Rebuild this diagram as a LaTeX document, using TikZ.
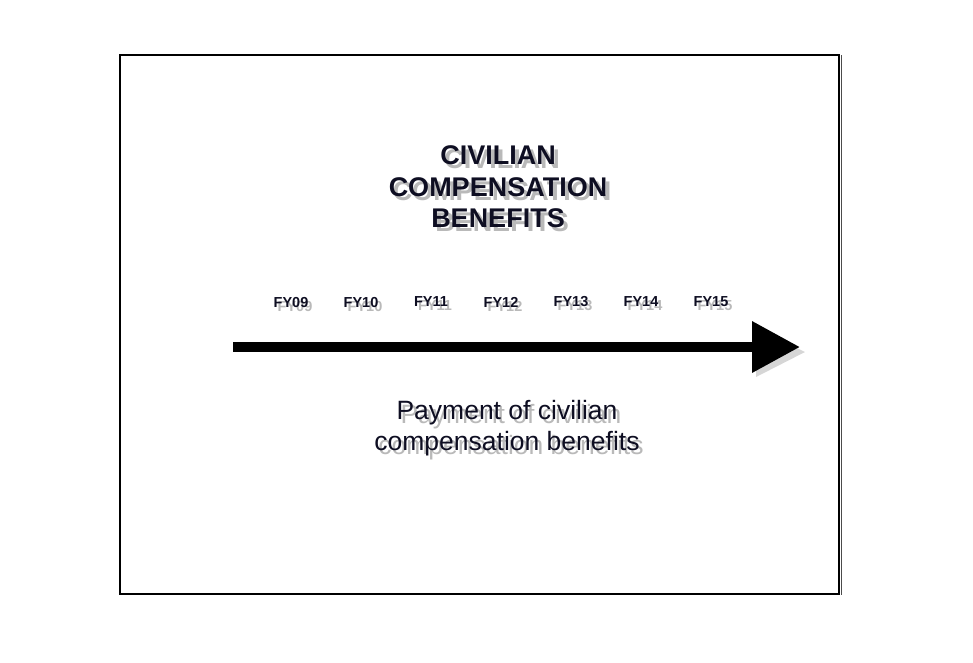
\documentclass[tikz,border=0pt]{standalone}
\usepackage{fontspec}
\setmainfont{Liberation Sans}
\usetikzlibrary{arrows.meta,positioning}
\definecolor{inkdark}{HTML}{0E0E22}
\definecolor{shadowgray}{HTML}{8A8A8A}

\begin{document}
\begin{tikzpicture}[x=1pt,y=-1pt,
		titletext/.style={font=\fontsize{27}{31.5}\selectfont\bfseries, align=center},
		yeartext/.style={font=\fontsize{14.5}{17}\selectfont\bfseries},
		notetext/.style={font=\fontsize{26.5}{31.5}\selectfont, align=center},
		ink/.style={text=inkdark},
		blur/.style={text=shadowgray, opacity=0.6}]
		\useasboundingbox (0,0) rectangle (973,662);
		% frame
		\draw[line width=2pt] (120,55) rectangle (839,594);
		\draw[line width=0.6pt, black!70] (841.5,55) -- (841.5,595);
		% shadows
		\node[titletext, blur] at (502,191) {CIVILIAN\\COMPENSATION\\BENEFITS};
		\node[notetext, blur] at (511,432) {Payment of civilian\\compensation benefits};
		\foreach \yr [count=\i from 0] in {09,10,11,12,13,14,15}
			\node[yeartext, blur] at (295+70*\i,306) {FY\yr};
		\fill[shadowgray, opacity=0.35] (756,328) -- (805,352) -- (756,377) -- cycle;
		% texts
		\node[titletext, ink] (title) at (498,187) {CIVILIAN\\COMPENSATION\\BENEFITS};
		\foreach \yr [count=\i from 0] in {09,10,11,12,13,14,15}
			\node[yeartext, ink] (fy\yr) at (291+70*\i,302) {FY\yr};
		\node[notetext, ink] (payment) at (507,428) {Payment of civilian\\compensation benefits};
		% time arrow
		\coordinate (start) at (233,347);
		\coordinate (tip) at (800,347);
		\draw[line width=10pt, -{Triangle[length=48pt,width=49pt]}] (start) -- (tip);
	\end{tikzpicture}
\end{document}
